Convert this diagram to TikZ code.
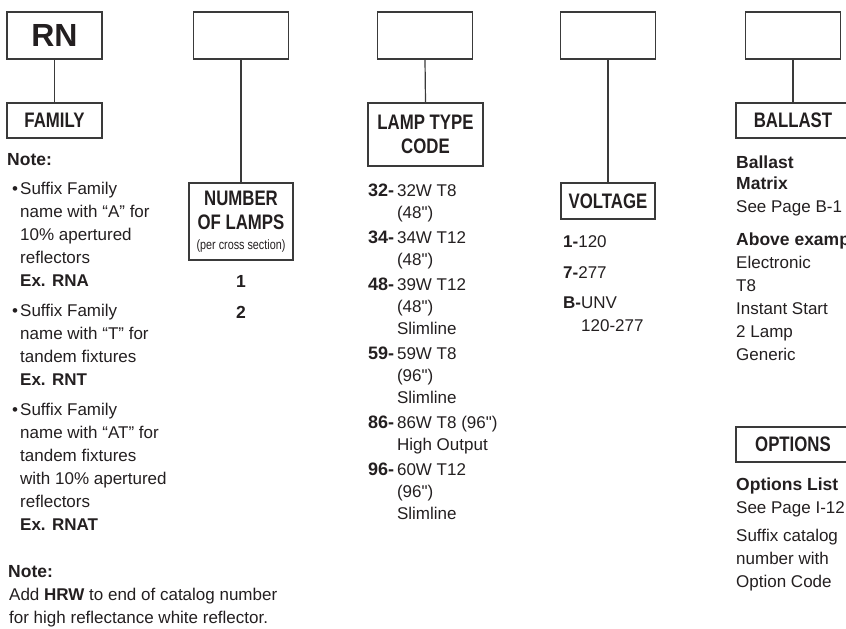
\documentclass[tikz,border=0pt]{standalone}
\usepackage{fontspec}
\setmainfont{Liberation Sans}
\newfontfamily\headfont{Liberation Sans}[FakeStretch=0.8]
\newfontfamily\plainfont{Liberation Sans}
\usetikzlibrary{positioning}
\definecolor{ink}{HTML}{231F20}
\definecolor{rule}{HTML}{3A3A3A}
\newcommand\inch{{\plainfont"}}
\newcommand\lampcode[1]{{\bfseries\fontsize{18}{22}\selectfont #1}\,}

\begin{document}
\begin{tikzpicture}[x=1pt, y=-1pt,
    codebox/.style={draw=rule, line width=1.2pt, minimum width=95pt, minimum height=47pt, inner sep=0pt},
    headbox/.style={draw=rule, line width=1.2pt, inner sep=0pt, align=center, text=ink,
        font=\headfont\bfseries\fontsize{21}{24}\selectfont},
    link/.style={draw=rule, line width=1.2pt},
    bodytext/.style={anchor=north west, inner sep=0pt, align=left, text=ink,
        font=\fontsize{17}{23}\selectfont},
    subhead/.style={font=\bfseries\fontsize{17.5}{21}\selectfont}
]
    \clip (0,0) rectangle (846,629);

    % Define code boxes
    \node[codebox, text=ink, font=\bfseries\fontsize{32}{34}\selectfont] (rn) at (54.5,35.5) {RN};
    \node[codebox] (lampsbox) at (241,35.5) {};
    \node[codebox] (typebox) at (425,35.5) {};
    \node[codebox] (voltbox) at (608,35.5) {};
    \node[codebox] (ballastbox) at (793,35.5) {};

    % Define headings
    \node[headbox, minimum width=95pt, minimum height=35pt] (family) at (54.5,120.5) {FAMILY};
    \node[headbox, minimum width=104pt, minimum height=77pt] (lamps) at (241,221.5)
        {NUMBER\\OF LAMPS\\[-4pt]{\fontsize{13.5}{15}\selectfont\mdseries (per cross section)}};
    \node[headbox, minimum width=115pt, minimum height=63pt] (lamptype) at (425.5,134.5) {LAMP TYPE\\CODE};
    \node[headbox, minimum width=94pt, minimum height=36pt] (voltage) at (608,201) {VOLTAGE};
    \node[headbox, minimum width=114pt, minimum height=35pt] (ballast) at (793,120.5) {BALLAST};
    \node[headbox, minimum width=114pt, minimum height=35pt] (options) at (793,444.5) {OPTIONS};

    % Draw connectors
    \draw[link] (rn.south) -- (family.north);
    \draw[link] (lampsbox.south) -- (lamps.north);
    \draw[link] (typebox.south) -- (lamptype.north);
    \draw[link] (voltbox.south) -- (voltage.north);
    \draw[link] (ballastbox.south) -- (ballast.north);

    % Family notes
    \node[bodytext, subhead] (note1) at (7,153.5) {Note:};
    \node[bodytext] (suffixes) at (20,182) {\llap{\textbullet\hspace{2pt}}Suffix Family\\
        name with “A” for\\ 10\% apertured\\ reflectors\\ {\bfseries Ex. RNA}\\[7pt]
        \llap{\textbullet\hspace{2pt}}Suffix Family\\ name with “T” for\\ tandem fixtures\\ {\bfseries Ex. RNT}\\[7pt]
        \llap{\textbullet\hspace{2pt}}Suffix Family\\ name with “AT” for\\ tandem fixtures\\
        with 10\% apertured\\ reflectors\\ {\bfseries Ex. RNAT}};
    \node[bodytext, subhead] (note2) at (8,565.5) {Note:};
    \node[bodytext] (hrw) at (9,588) {Add {\bfseries HRW} to end of catalog number\\
        for high reflectance white reflector.};

    % Number of lamps
    \node[bodytext, anchor=north, align=center, subhead] (lampcount) at (241,275.5) {1\\[10pt]2};

    % Lamp type codes
    \node[bodytext, font=\fontsize{17}{22}\selectfont] (lampcodes) at (368,183.5) {%
        \lampcode{32-}32W T8\\ \hphantom{\lampcode{32-}}(48\inch)\\[3pt]
        \lampcode{34-}34W T12\\ \hphantom{\lampcode{34-}}(48\inch)\\[3pt]
        \lampcode{48-}39W T12\\ \hphantom{\lampcode{48-}}(48\inch)\\
        \hphantom{\lampcode{48-}}Slimline\\[3pt]
        \lampcode{59-}59W T8\\ \hphantom{\lampcode{59-}}(96\inch)\\
        \hphantom{\lampcode{59-}}Slimline\\[3pt]
        \lampcode{86-}86W T8 (96\inch)\\ \hphantom{\lampcode{86-}}High Output\\[3pt]
        \lampcode{96-}60W T12\\ \hphantom{\lampcode{96-}}(96\inch)\\
        \hphantom{\lampcode{96-}}Slimline};

    % Voltages
    \node[bodytext] (volts) at (563,235) {{\bfseries 1-}120\\[8pt] {\bfseries 7-}277\\[7pt]
        {\bfseries B-}UNV\\ \hphantom{\bfseries B-}120-277};

    % Ballast and options
    \node[bodytext] (ballastinfo) at (736,155.5) {{\bfseries\fontsize{17.5}{21}\selectfont Ballast}\\[-2pt]
        {\bfseries\fontsize{17.5}{21}\selectfont Matrix}\\ See Page B-1\\[10pt]
        {\bfseries\fontsize{17.5}{21}\selectfont Above example:}\\ Electronic\\ T8\\ Instant Start\\ 2 Lamp\\ Generic};
    \node[bodytext] (optioninfo) at (736,477.5) {{\bfseries\fontsize{17.5}{21}\selectfont Options List}\\
        See Page I-12\\[5pt] Suffix catalog\\ number with\\ Option Code};
\end{tikzpicture}
\end{document}
